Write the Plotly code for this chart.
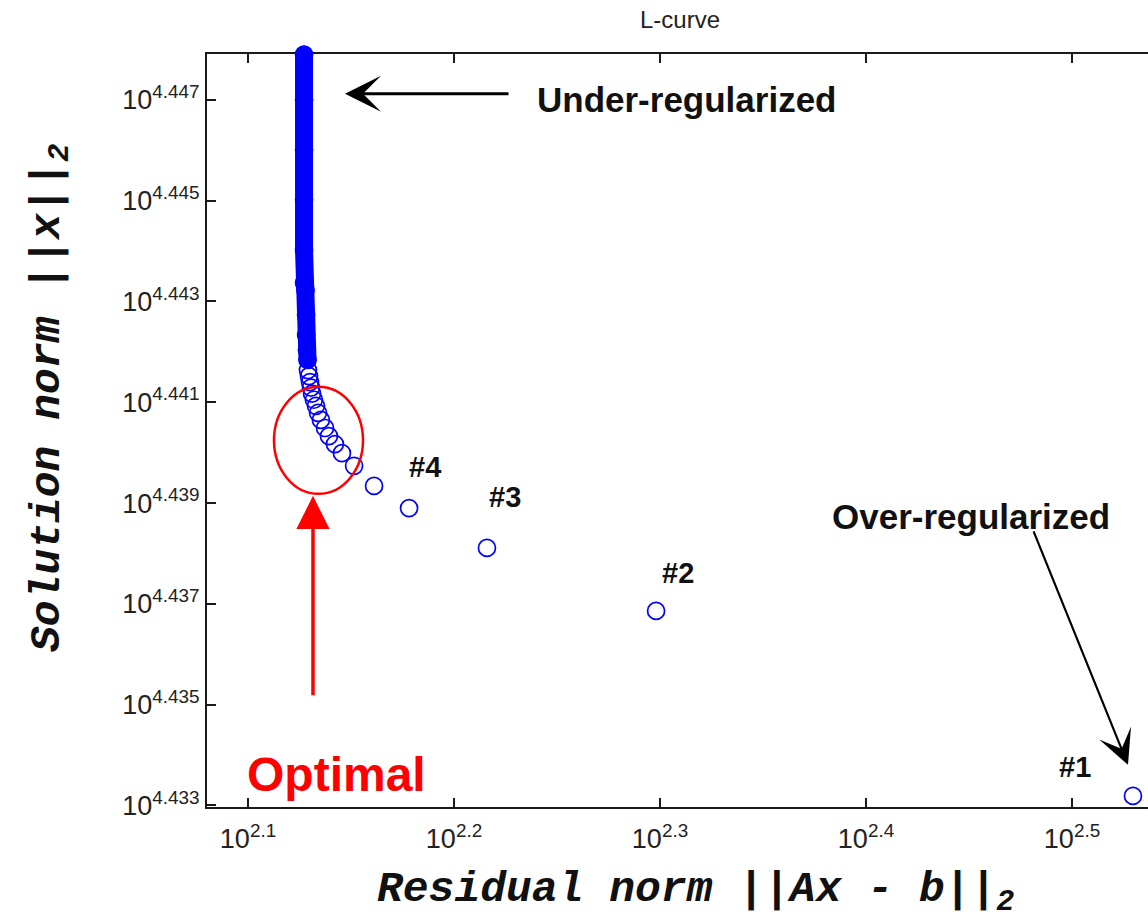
import plotly.graph_objects as go

# ---- data (log10 of the norms) ----
residual_log10 = [2.5296, 2.2981, 2.2160, 2.1782, 2.1612, 2.1515, 2.1456, 2.1422,
                  2.1393, 2.1374, 2.1354, 2.1340, 2.1330, 2.1320, 2.1311, 2.1306,
                  2.1301, 2.1296, 2.1291, 2.1289, 2.1286, 2.1282, 2.1282, 2.1279,
                  2.1272, 2.1272, 2.1272, 2.1272, 2.1272, 2.1272]
solution_log10 = [4.43319, 4.43686, 4.43811, 4.43890, 4.43934, 4.43974, 4.43999, 4.44017,
                  4.44033, 4.44049, 4.44065, 4.44079, 4.44093, 4.44105, 4.44117, 4.44129,
                  4.44140, 4.44152, 4.44164, 4.44184, 4.44204, 4.44234, 4.44273, 4.44323,
                  4.44337, 4.44402, 4.44502, 4.44601, 4.44700, 4.44790]
dense_start = 19          # first index of the densely packed (solid) part of the curve

point_labels = ["#1", "#2", "#3", "#4"]
x_tick_exponents = [2.1, 2.2, 2.3, 2.4, 2.5]
y_tick_exponents = [4.433, 4.435, 4.437, 4.439, 4.441, 4.443, 4.445, 4.447]

residual_norm = [10 ** v for v in residual_log10]
solution_norm = [10 ** v for v in solution_log10]

BLUE = "#0000ff"
RED = "#ff0000"
AX = "#1a1a1a"

fig = go.Figure()

# dense part drawn solid
fig.add_trace(go.Scatter(
    x=residual_norm[dense_start:], y=solution_norm[dense_start:],
    mode="lines+markers",
    line=dict(color=BLUE, width=18),
    marker=dict(symbol="circle", size=18, color=BLUE),
    cliponaxis=False, hoverinfo="skip", showlegend=False))

# all points as open circles
fig.add_trace(go.Scatter(
    x=residual_norm, y=solution_norm, mode="markers",
    marker=dict(symbol="circle-open", size=17, color=BLUE, line=dict(width=1.7, color=BLUE)),
    cliponaxis=False, showlegend=False))

tickfont = dict(family="Liberation Sans, Arial, sans-serif", size=27, color="#222222")

fig.update_xaxes(
    type="log", range=[2.0801, 2.5369],
    tickvals=[10 ** e for e in x_tick_exponents],
    ticktext=[f"10<sup>{e:g}</sup>" for e in x_tick_exponents],
    ticks="inside", ticklen=9, tickwidth=1.6, tickcolor=AX,
    showline=True, linewidth=2, linecolor=AX, mirror="ticks", layer="below traces",
    showgrid=False, zeroline=False, tickfont=tickfont, ticklabelstandoff=7)
fig.update_yaxes(
    type="log", range=[4.43297, 4.44791],
    tickvals=[10 ** e for e in y_tick_exponents],
    ticktext=[f"10<sup>{e:.3f}</sup>" for e in y_tick_exponents],
    ticks="inside", ticklen=9, tickwidth=1.6, tickcolor=AX,
    showline=True, linewidth=2, linecolor=AX, mirror=False, layer="below traces",
    showgrid=False, zeroline=False, tickfont=tickfont)

ann = []
# point labels #1..#4, offset from their points
label_offsets = [(-76, 29), (4, 38), (0, 51), (-2, 41)]
for i, lab in enumerate(point_labels):
    dx, dy = label_offsets[i]
    ann.append(dict(x=residual_log10[i], y=solution_log10[i], xref="x", yref="y",
                    text=f"<b>{lab}</b>", showarrow=False, xanchor="left", yanchor="middle",
                    xshift=dx, yshift=dy,
                    font=dict(family="Liberation Sans, Arial", size=29, color="#111111")))

bold_font = dict(family="Liberation Sans, Arial", size=35, color="#111111")
ann.append(dict(x=2.2393, y=4.44700, xref="x", yref="y", text="<b>Under-regularized</b>",
                showarrow=False, xanchor="left", yanchor="middle", font=bold_font))
ann.append(dict(x=2.3825, y=4.43873, xref="x", yref="y", text="<b>Over-regularized</b>",
                showarrow=False, xanchor="left", yanchor="middle", font=bold_font))
ann.append(dict(x=2.0985, y=4.43361, xref="x", yref="y", text="<b>Optimal</b>",
                showarrow=False, xanchor="left", yanchor="middle",
                font=dict(family="Liberation Sans, Arial", size=48, color=RED)))

# arrows
ann.append(dict(x=2.1471, y=4.44712, xref="x", yref="y", text="", showarrow=True,
                ax=165, ay=0, arrowhead=3, arrowsize=2.0, arrowwidth=3, arrowcolor="#000000",
                standoff=0))
ann.append(dict(x=2.52718, y=4.433806, xref="x", yref="y", text="", showarrow=True,
                ax=-95, ay=-235, arrowhead=3, arrowsize=2.6, arrowwidth=2.2, arrowcolor="#000000",
                standoff=0))
ann.append(dict(x=2.13155, y=4.439143, xref="x", yref="y", text="", showarrow=True,
                ax=0, ay=201, arrowhead=2, arrowsize=1.9, arrowwidth=3.5, arrowcolor=RED,
                standoff=0))

# title & axis labels
ann.append(dict(x=0.5027, y=1.0452, xref="paper", yref="paper", text="L-curve",
                showarrow=False, xanchor="center", yanchor="middle",
                font=dict(family="Liberation Sans, Arial", size=24, color="#222222")))
label_font = dict(family="Liberation Mono, Courier New, monospace", size=43, color="#111111")
ann.append(dict(x=0.5186, y=-0.113, xref="paper", yref="paper",
                text="<b><i>Residual norm ||Ax - b||<sub>2</sub></i></b>",
                showarrow=False, xanchor="center", yanchor="middle", font=label_font))
ann.append(dict(x=-0.1668, y=0.5432, xref="paper", yref="paper",
                text="<b><i>Solution norm ||x||<sub>2</sub></i></b>", textangle=-90,
                showarrow=False, xanchor="center", yanchor="middle", font=label_font))

# red ellipse around the corner (shapes on log axes take data values)
ellipse_log = dict(x0=2.11262, x1=2.15583, y0=4.439183, y1=4.441306)

fig.update_layout(
    width=1148, height=923,
    margin=dict(l=207, r=0, t=54, b=116),
    plot_bgcolor="white", paper_bgcolor="white",
    annotations=ann,
    shapes=[dict(type="circle", xref="x", yref="y",
                 x0=10 ** ellipse_log["x0"], x1=10 ** ellipse_log["x1"],
                 y0=10 ** ellipse_log["y0"], y1=10 ** ellipse_log["y1"],
                 line=dict(color=RED, width=2.5))],
)

fig.write_html("out.html")
